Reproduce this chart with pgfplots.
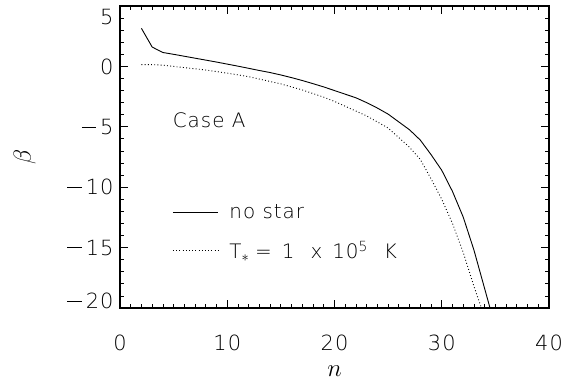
\documentclass[border=0pt]{standalone}
\usepackage{pgfplots}
\pgfplotsset{compat=1.18}
\usepackage{fontspec}
\setmainfont{DejaVu Sans}[UprightFont=* ExtraLight, LetterSpace=5]
\newcommand\mn{\rule[0.34em]{0.7em}{0.6pt}\hspace{0.18em}}
\begin{document}
\begin{tikzpicture}
\begin{axis}[
  scale only axis, width=429bp, height=302bp,
  xmin=0, xmax=40, ymin=-20, ymax=5,
  xtick={0,10,20,30,40}, xticklabels={0,10,20,30,40},
  ytick={-20,-15,-10,-5,0,5},
  yticklabels={\raisebox{7bp}[\height][\depth]{\mn20},\mn15,\mn10,\mn5,0,\raisebox{-11bp}[\height][\depth]{5}},
  minor x tick num=9, minor y tick num=4,
  tick align=inside,
  xticklabel pos=lower, yticklabel pos=left,
  major tick length=8bp, minor tick length=4bp,
  axis line style={line width=1.1bp},
  every tick/.style={line width=0.8bp, black},
  tick label style={font=\fontsize{21}{25}\selectfont},
  xticklabel style={yshift=-23bp},
  yticklabel style={xshift=-3bp},
  xlabel={$n$}, ylabel={$\beta$},
  every axis x label/.style={at={(axis description cs:0.5,-0.209)}, anchor=center, font=\fontsize{27}{30}\selectfont},
  every axis y label/.style={at={(axis description cs:-0.222,0.5)}, anchor=center, rotate=90, font=\fontsize{28}{32}\selectfont},
  legend style={draw=none, fill=none, at={(axis cs:4.6,-11.1)}, anchor=north west,
    font=\fontsize{20}{24}\selectfont, row sep=17bp,
    /tikz/every odd column/.append style={column sep=9bp}},
  legend cell align=left,
  legend image code/.code={\draw[#1] (0bp,0bp) -- (45bp,0bp);},
]
\addplot[black, line width=0.9bp] coordinates {
(2,3.15) (3,1.6) (4,1.15) (5,1.0) (6,0.84) (7,0.68) (8,0.52) (9,0.36) (10,0.19)
(11,0.02) (12,-0.16) (13,-0.34) (14,-0.51) (15,-0.71) (16,-0.93) (17,-1.17)
(18,-1.43) (19,-1.7) (20,-2.0) (21,-2.3) (22,-2.6) (23,-3.0) (24,-3.45)
(25,-3.95) (26,-4.6) (27,-5.25) (28,-6.1) (29,-7.3) (30,-8.6) (31,-10.35)
(32,-12.47) (33,-15.2) (34,-18.4) (34.5,-20)
};
\addlegendentry{no star}
\addplot[black, line width=0.9bp, dash pattern=on 0.9bp off 2.3bp] coordinates {
(2,0.15) (3,0.15) (4,0.1) (5,0.0) (6,-0.1) (7,-0.2) (8,-0.3) (9,-0.43) (10,-0.56)
(11,-0.7) (12,-0.85) (13,-1.05) (14,-1.25) (15,-1.45) (16,-1.7) (17,-1.95)
(18,-2.25) (19,-2.55) (20,-2.9) (21,-3.3) (22,-3.7) (23,-4.1) (24,-4.6)
(25,-5.1) (26,-5.9) (27,-6.7) (28,-7.7) (29,-9.3) (30,-11.0) (31,-13.0)
(32,-15.4) (33,-18.2) (33.7,-20)
};
\addlegendentry{T$_\ast$\hspace{0.3em}=\hspace{0.5em}1\hspace{0.8em}x\hspace{0.5em}10\textsuperscript{5}\hspace{0.8em}K}
\node[anchor=west, font=\fontsize{20}{24}\selectfont] at (axis cs:4.6,-4.44) {Case A};
\end{axis}
\pgfresetboundingbox
\path[use as bounding box] ([xshift=-120bp,yshift=-77bp]current axis.south west) rectangle ([xshift=27bp,yshift=6bp]current axis.north east);
\end{tikzpicture}
\end{document}
